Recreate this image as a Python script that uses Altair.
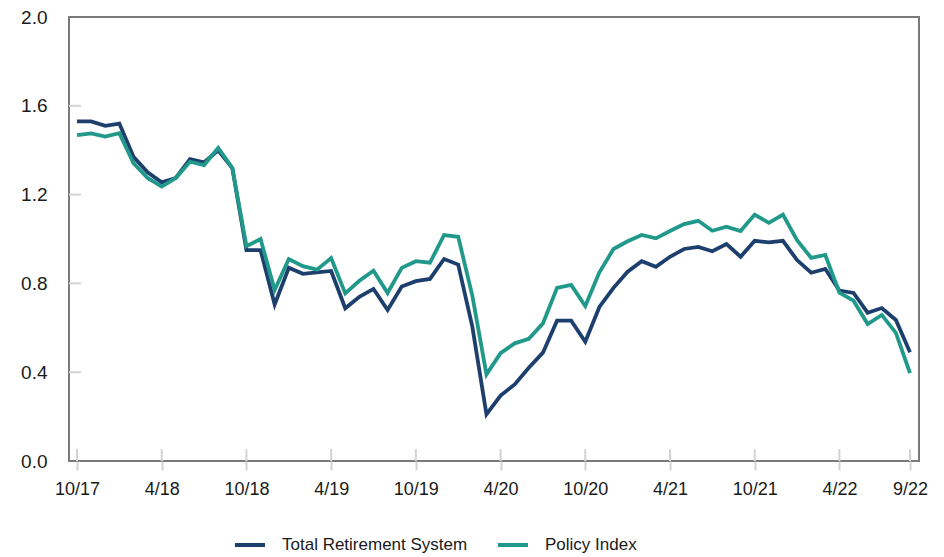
import altair as alt
import pandas as pd

month_idx = list(range(60))
trs = [1.53, 1.53, 1.51, 1.52, 1.37, 1.30, 1.255, 1.275, 1.36, 1.345,
       1.40, 1.32, 0.95, 0.95, 0.705, 0.87, 0.843, 0.85, 0.856, 0.688,
       0.74, 0.775, 0.68, 0.786, 0.81, 0.82, 0.91, 0.885, 0.605, 0.21,
       0.295, 0.345, 0.42, 0.488, 0.632, 0.632, 0.537, 0.694, 0.78, 0.853,
       0.90, 0.875, 0.92, 0.955, 0.964, 0.945, 0.977, 0.92, 0.992, 0.985,
       0.992, 0.905, 0.848, 0.865, 0.768, 0.757, 0.668, 0.689, 0.635, 0.49]
policy = [1.468, 1.476, 1.461, 1.477, 1.342, 1.275, 1.236, 1.275, 1.348, 1.333,
          1.41, 1.32, 0.968, 1.0, 0.77, 0.91, 0.878, 0.862, 0.914, 0.755,
          0.812, 0.857, 0.757, 0.87, 0.90, 0.893, 1.018, 1.01, 0.745, 0.39,
          0.486, 0.53, 0.55, 0.62, 0.78, 0.793, 0.698, 0.85, 0.955, 0.99,
          1.018, 1.003, 1.036, 1.067, 1.082, 1.037, 1.055, 1.036, 1.11, 1.073,
          1.11, 0.995, 0.915, 0.928, 0.758, 0.722, 0.617, 0.658, 0.577, 0.396]
series_names = ["Total Retirement System", "Policy Index"]
series_colors = ["#1d3f6e", "#21998a"]
tick_idx = [0, 6, 12, 18, 24, 30, 36, 42, 48, 54, 59]
tick_labels = ["10/17", "4/18", "10/18", "4/19", "10/19", "4/20", "10/20",
               "4/21", "10/21", "4/22", "9/22"]
y_ticks = [0.0, 0.4, 0.8, 1.2, 1.6, 2.0]
y_inner_ticks = [0.4, 0.8, 1.2, 1.6]

FONT = "Liberation Sans, Arial, sans-serif"

df = pd.DataFrame({
    "idx": month_idx * 2,
    "value": trs + policy,
    "series": [series_names[0]] * 60 + [series_names[1]] * 60,
})
df_xt = pd.DataFrame({"idx": tick_idx})
df_yt = pd.DataFrame({"v": y_inner_ticks})

label_expr = " : ".join(
    f"datum.value == {i} ? '{l}'" for i, l in zip(tick_idx, tick_labels)
) + " : ''"

W, H = 850, 444

x_scale = alt.Scale(domain=[-0.567, 59.637], nice=False, zero=False)
y_scale = alt.Scale(domain=[0, 2.0], nice=False)

lines = alt.Chart(df).mark_line(strokeWidth=3.8).encode(
    x=alt.X("idx:Q", scale=x_scale, title=None,
            axis=alt.Axis(values=tick_idx, labelExpr=label_expr, domain=False,
                          grid=False, tickSize=9, tickColor="#d3d3d3", tickWidth=2,
                          labelPadding=10, labelFontSize=18, labelFont=FONT,
                          labelColor="#1a1a1a", labelFlush=False)),
    y=alt.Y("value:Q", scale=y_scale, title=None,
            axis=alt.Axis(values=y_ticks, format=".1f", domain=False, grid=False,
                          ticks=False, labelPadding=22, labelFontSize=19,
                          labelFont=FONT, labelColor="#1a1a1a")),
    color=alt.Color("series:N",
                    scale=alt.Scale(domain=series_names, range=series_colors),
                    sort=series_names,
                    legend=alt.Legend(title=None, orient="none", direction="horizontal",
                                      legendX=164, legendY=511, padding=0,
                                      symbolType="stroke", symbolSize=900,
                                      symbolStrokeWidth=4, labelFontSize=17,
                                      labelFont=FONT, labelColor="#1a1a1a",
                                      labelLimit=400, labelOffset=15,
                                      columnPadding=22)),
    order=alt.Order("idx:Q"),
)

xt_inner = alt.Chart(df_xt).mark_rule(color="#d3d3d3", strokeWidth=2).encode(
    x=alt.X("idx:Q", scale=x_scale),
    y=alt.value(H - 12),
    y2=alt.value(H),
)
yt_inner = alt.Chart(df_yt).mark_rule(color="#d3d3d3", strokeWidth=2).encode(
    y=alt.Y("v:Q", scale=y_scale),
    x=alt.value(0),
    x2=alt.value(12),
)

chart = alt.layer(xt_inner, yt_inner, lines).properties(
    width=W, height=H,
    autosize=alt.AutoSizeParams(type="none"),
    padding={"left": 61, "top": 9, "right": 17, "bottom": 92},
    background="white",
).configure_view(stroke="#7a7a7a", strokeWidth=2)

chart.save("out.html", embed_options={"renderer": "svg", "actions": False})
